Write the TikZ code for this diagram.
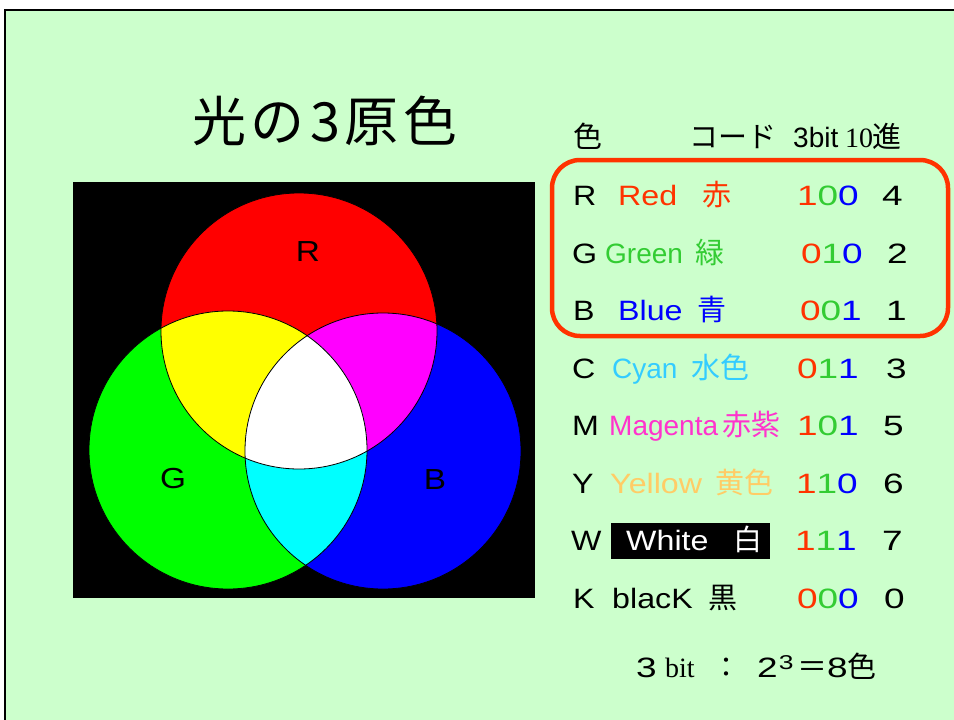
\documentclass[tikz,border=0pt]{standalone}
\usepackage{fontspec}
\setmainfont{Liberation Sans}[FakeStretch=1.15]
\newfontfamily\plainsans{Liberation Sans}
\newfontfamily\digf{Liberation Sans}[FakeStretch=1.32]
\newfontfamily\jp{Noto Sans CJK JP}
\newfontfamily\serifb{Liberation Serif}
\definecolor{bg}{HTML}{CCFFCC}
\definecolor{cr}{HTML}{FF3300}
\definecolor{cg}{HTML}{33CC33}
\definecolor{cb}{HTML}{0000FF}
\definecolor{ccy}{HTML}{33CCFF}
\definecolor{cm}{HTML}{FF33CC}
\definecolor{cyl}{HTML}{FFCC66}
\definecolor{vR}{HTML}{FF0000}
\definecolor{vG}{HTML}{00FF00}
\definecolor{vB}{HTML}{0000FF}
\definecolor{vY}{HTML}{FFFF00}
\definecolor{vM}{HTML}{FF00FF}
\definecolor{vC}{HTML}{00FFFF}
\newcommand\bits[3]{\makebox[20.5pt][l]{\color{cr}#1}\makebox[20.5pt][l]{\color{cg}#2}{\color{cb}#3}}
\begin{document}
\begin{tikzpicture}[x=1pt,y=-1pt,
  txt/.style={anchor=base west, inner sep=0pt, font=\fontsize{28}{28}\selectfont},
  ptxt/.style={anchor=base west, inner sep=0pt, font=\fontsize{28}{28}\plainsans},
  dig/.style={anchor=base west, inner sep=0pt, font=\fontsize{28}{28}\digf},
  kj/.style={anchor=base west, inner sep=0pt, font=\fontsize{29}{29}\jp},
  vlabel/.style={inner sep=0pt, font=\fontsize{29}{29}\selectfont}]
\useasboundingbox (0,0) rectangle (954,720);
\fill[white] (0,0) rectangle (954,720);
\fill[bg] (4.5,9.5) rectangle (960,730);
\draw[line width=2pt] (4.5,730) -- (4.5,9.5) -- (960,9.5);

% title
\node[anchor=base, inner sep=0pt, font=\fontsize{54}{54}\jp] (title) at (325,141) {光\kern5pt の\kern5pt 3\kern5pt 原\kern5pt 色};

% Venn diagram
\fill[black] (73,182) rectangle (535,598);
\def\cR{(299,331) circle[radius=138]}
\def\cG{(228,450) circle[radius=139]}
\def\cB{(383,451) circle[radius=138]}
\fill[vR] \cR;
\fill[vG] \cG;
\fill[vB] \cB;
\begin{scope}\clip \cR; \fill[vY] \cG; \fill[vM] \cB; \end{scope}
\begin{scope}\clip \cG; \fill[vC] \cB; \end{scope}
\begin{scope}\clip \cR; \clip \cG; \fill[white] \cB; \end{scope}
\draw[line width=0.8pt] \cR;
\draw[line width=0.8pt] \cG;
\draw[line width=0.8pt] \cB;
\node[vlabel] (lR) at (308,252) {R};
\node[vlabel] (lG) at (173,479) {G};
\node[vlabel] (lB) at (435,480) {B};

% header
\node[kj] (h1) at (573,147) {色};
\node[kj] (h2) at (689,147) {コード};
\node[ptxt] (h3) at (793,147) {3bit};
\node[txt, font=\fontsize{28}{28}\serifb] (h4) at (845,147) {10};
\node[kj] (h5) at (872,147) {進};

% red frame
\draw[cr, line width=4.5pt, rounded corners=28pt] (552,160) rectangle (948,336);

% rows
\node[txt] (rl) at (573,205) {R};
\node[txt, text=cr] (rn) at (618,205) {Red};
\node[kj, text=cr] (rk) at (702,205) {赤};
\node[dig] (rc) at (797,205) {\bits100};
\node[dig] (rd) at (882,205) {4};

\node[txt] (gl) at (572,263) {G};
\node[ptxt, text=cg] (gn) at (605,263) {Green};
\node[kj, text=cg] (gk) at (695,263) {緑};
\node[dig] (gc) at (801,263) {\bits010};
\node[dig] (gd) at (887,263) {2};

\node[txt] (bl) at (573,320) {B};
\node[txt, text=cb] (bn) at (618,320) {Blue};
\node[kj, text=cb] (bk) at (697,320) {青};
\node[dig] (bc) at (800,320) {\bits001};
\node[dig] (bd) at (886,320) {1};

\node[txt] (cl) at (572,378) {C};
\node[ptxt, text=ccy] (cn) at (612,378) {Cyan};
\node[kj, text=ccy] (ck) at (691,378) {水色};
\node[dig] (cc) at (797,378) {\bits011};
\node[dig] (cd) at (886,378) {3};

\node[txt] (ml) at (572,435) {M};
\node[ptxt, text=cm] (mn) at (609,435) {Magenta};
\node[kj, text=cm] (mk) at (722,435) {赤紫};
\node[dig] (mc) at (797,435) {\bits101};
\node[dig] (md) at (883,435) {5};

\node[txt] (yl) at (572,493) {Y};
\node[txt, text=cyl] (yn) at (610,493) {Yellow};
\node[kj, text=cyl] (yk) at (715,493) {黄色};
\node[dig] (yc) at (796,493) {\bits110};
\node[dig] (yd) at (883,493) {6};

\node[txt] (wl) at (571,550) {W};
\fill[black] (611,523) rectangle (770,559);
\node[txt, text=white] (wn) at (626,550) {White};
\node[kj, text=white] (wk) at (733,550) {白};
\node[dig] (wc) at (795,550) {\bits111};
\node[dig] (wd) at (882,550) {7};

\node[txt] (kl) at (573,608) {K};
\node[txt] (kn) at (612,608) {blacK};
\node[kj] (kk) at (708,608) {黒};
\node[dig] (kc) at (797,608) {\bits000};
\node[dig] (kd) at (884,608) {0};

% bottom line
\node[dig] (f1) at (636,677) {3};
\node[txt, font=\fontsize{28}{28}\serifb] (f2) at (665,677) {bit};
\node[anchor=base, inner sep=0pt, font=\fontsize{28}{28}\jp] (f3) at (726,677) {：};
\node[dig] (f4) at (757,677) {2\kern1pt\raisebox{8pt}{\fontsize{20}{20}\digf 3}};
\node[anchor=base, inner sep=0pt, font=\fontsize{30}{30}\jp] (f5) at (812,677) {＝};
\node[dig] (f6) at (827,677) {8};
\node[kj] (f7) at (847,677) {色};
\end{tikzpicture}
\end{document}
